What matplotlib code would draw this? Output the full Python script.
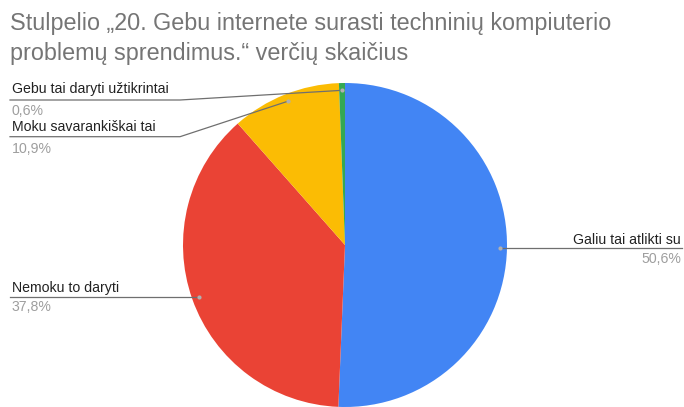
import matplotlib
matplotlib.use("Agg")
import matplotlib.pyplot as plt
import numpy as np

plt.rcParams['font.family'] = ['Liberation Sans', 'DejaVu Sans']

# duomenys
labels = ["Galiu tai atlikti su", "Nemoku to daryti", "Moku savarankiškai tai", "Gebu tai daryti užtikrintai"]
values = [50.6, 37.8, 10.9, 0.6]
pct_text = ["50,6%", "37,8%", "10,9%", "0,6%"]
colors = ["#4285F4", "#EA4335", "#FBBC04", "#34A853"]
title_lines = ["Stulpelio „20. Gebu internete surasti techninių kompiuterio",
               "problemų sprendimus.“ verčių skaičius"]

W, H = 684, 407
fig = plt.figure(figsize=(W / 100, H / 100), dpi=100)
ax = fig.add_axes([0, 0, 1, 1])

cx, cy, r = 345, H - 245, 162
wedges, _ = ax.pie(values, colors=colors, startangle=90, counterclock=False,
                   center=(cx, cy), radius=r, wedgeprops=dict(linewidth=0))
ax.set_xlim(0, W)
ax.set_ylim(0, H)
ax.set_aspect('equal')
ax.axis('off')

def Y(py):
    return H - py

# taskai ant skilčių
dots = []
for w in wedges:
    a = np.deg2rad((w.theta1 + w.theta2) / 2)
    dx, dy = cx + 0.955 * r * np.cos(a), cy + 0.955 * r * np.sin(a)
    dots.append((dx, dy))
    ax.plot(dx, dy, 'o', ms=3, color="#b0b0b0", mec='none', zorder=5)

line_c = "#6f6f6f"
lab_c = "#222222"
pct_c = "#9e9e9e"
fs = 10.2

# Galiu tai atlikti su (dešinėje)
d = dots[0]
ax.plot([d[0], 682], [d[1], d[1]], color=line_c, lw=0.9, zorder=4)
ax.text(681, d[1] + 4.5, labels[0], ha='right', va='baseline', fontsize=fs, color=lab_c)
ax.text(681, d[1] - 14.5, pct_text[0], ha='right', va='baseline', fontsize=fs, color=pct_c)

# Nemoku to daryti
d = dots[1]
ax.plot([10, d[0]], [d[1], d[1]], color=line_c, lw=0.9, zorder=4)
ax.text(12, d[1] + 4.5, labels[1], ha='left', va='baseline', fontsize=fs, color=lab_c)
ax.text(12, d[1] - 14.5, pct_text[1], ha='left', va='baseline', fontsize=fs, color=pct_c)

# Moku savarankiškai tai
d = dots[2]
ly = Y(136.7)
ax.plot([10, 180, d[0]], [ly, ly, d[1]], color=line_c, lw=0.9, zorder=4)
ax.text(12, ly + 6, labels[2], ha='left', va='baseline', fontsize=fs, color=lab_c)
ax.text(12, ly - 16, pct_text[2], ha='left', va='baseline', fontsize=fs, color=pct_c)

# Gebu tai daryti užtikrintai
d = dots[3]
ly = Y(100)
ax.plot([10, 180, d[0]], [ly, ly, d[1]], color=line_c, lw=0.9, zorder=4)
ax.text(12, ly + 6.5, labels[3], ha='left', va='baseline', fontsize=fs, color=lab_c)
ax.text(12, ly - 15, pct_text[3], ha='left', va='baseline', fontsize=fs, color=pct_c)

# pavadinimas
ax.text(10, Y(30), title_lines[0], ha='left', va='baseline', fontsize=16.8, color="#757575")
ax.text(10, Y(60), title_lines[1], ha='left', va='baseline', fontsize=16.8, color="#757575")

fig.savefig("out.png", dpi=100)
